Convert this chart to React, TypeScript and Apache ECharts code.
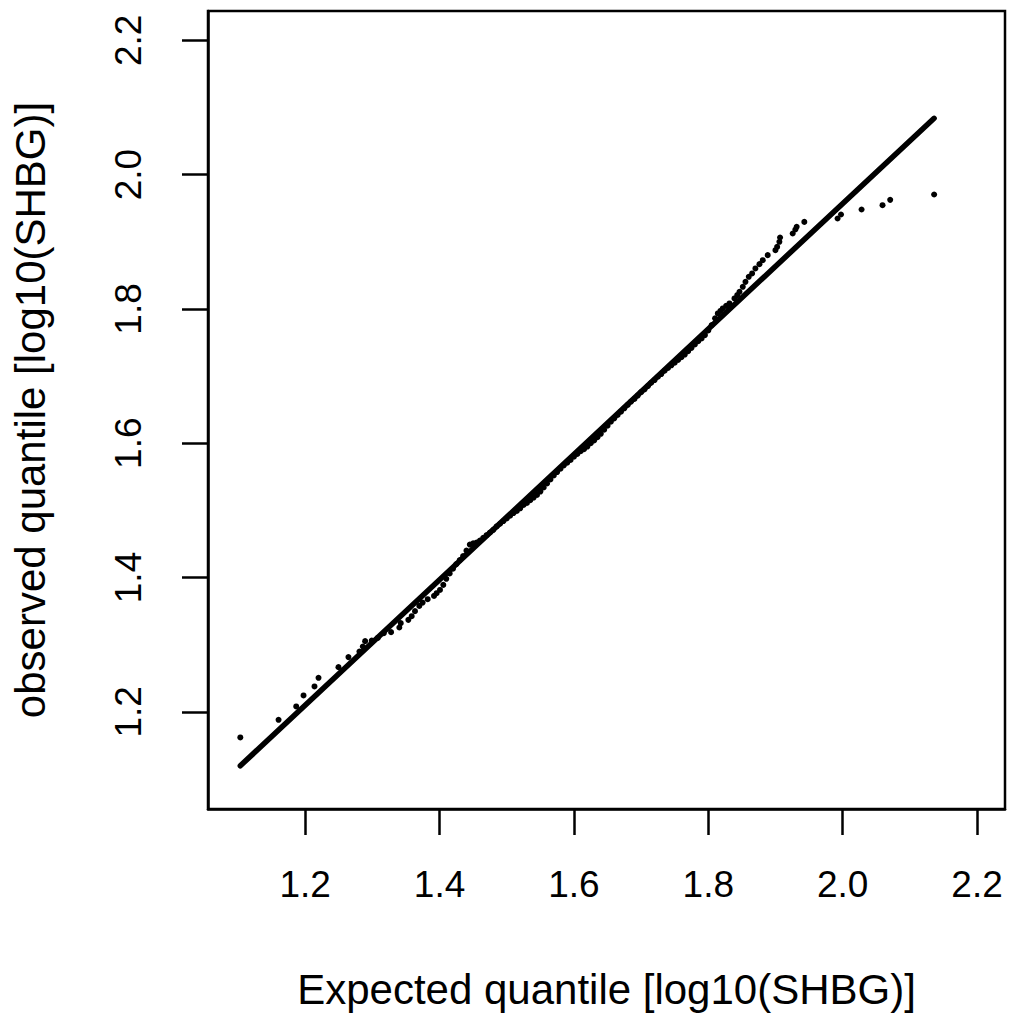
import React, { useEffect, useRef } from "react";
import * as echarts from "echarts";

// Expected (theoretical) quantiles, log10(SHBG)
const expectedQ: number[] = [
  1.1034, 1.1603, 1.1866, 1.1975, 1.2138, 1.2198, 1.2495, 1.2643, 1.2807, 1.2857,
  1.2892, 1.2990, 1.3080, 1.3170, 1.3278, 1.3401, 1.3422, 1.3535, 1.3585, 1.3634,
  1.3698, 1.3748, 1.3823, 1.3917, 1.3956, 1.4006, 1.4055,
  1.410, 1.415, 1.420, 1.425, 1.430, 1.435, 1.440, 1.445, 1.450, 1.455,
  1.460, 1.465, 1.470, 1.475, 1.480, 1.485, 1.490, 1.495, 1.500, 1.505,
  1.510, 1.515, 1.520, 1.525, 1.530, 1.535, 1.540, 1.545, 1.550, 1.555,
  1.560, 1.565, 1.570, 1.575, 1.580, 1.585, 1.590, 1.595, 1.600, 1.605,
  1.610, 1.615, 1.620, 1.625, 1.630, 1.635, 1.640, 1.645, 1.650, 1.655,
  1.660, 1.665, 1.670, 1.675, 1.680, 1.685, 1.690, 1.695, 1.700, 1.705,
  1.710, 1.715, 1.720, 1.725, 1.730, 1.735, 1.740, 1.745, 1.750, 1.755,
  1.760, 1.765, 1.770, 1.775, 1.780, 1.785, 1.790, 1.795, 1.800, 1.805,
  1.810,
  1.8141, 1.8180, 1.8215, 1.8265, 1.8315, 1.8389, 1.8430, 1.8464, 1.8513, 1.8553,
  1.8602, 1.8652, 1.8701, 1.8761, 1.8810, 1.8884, 1.8999, 1.9024, 1.9058, 1.9068,
  1.9256, 1.9296, 1.9315, 1.9429, 1.9924, 1.9975, 2.0281, 2.0593, 2.0707, 2.1361,
];

// Observed quantiles, log10(SHBG)
const observedQ: number[] = [
  1.1618, 1.1880, 1.2079, 1.2243, 1.2377, 1.2506, 1.2665, 1.2814, 1.2897, 1.2972,
  1.3052, 1.3060, 1.3100, 1.3170, 1.3186, 1.3255, 1.3320, 1.3369, 1.3424, 1.3499,
  1.3577, 1.3626, 1.3677, 1.3726, 1.3766, 1.3815, 1.3890,
  1.398, 1.406, 1.413, 1.420, 1.426, 1.432, 1.440, 1.449, 1.451, 1.452,
  1.455, 1.459, 1.463, 1.467, 1.471, 1.476, 1.480, 1.484, 1.488, 1.492,
  1.496, 1.499, 1.503, 1.508, 1.511, 1.515, 1.519, 1.523, 1.528, 1.534,
  1.540, 1.546, 1.552, 1.557, 1.562, 1.567, 1.571, 1.575, 1.580, 1.584,
  1.588, 1.591, 1.595, 1.600, 1.604, 1.609, 1.614, 1.620, 1.626, 1.632,
  1.637, 1.642, 1.647, 1.652, 1.657, 1.662, 1.666, 1.671, 1.676, 1.680,
  1.685, 1.690, 1.694, 1.699, 1.703, 1.708, 1.712, 1.716, 1.720, 1.724,
  1.728, 1.732, 1.737, 1.742, 1.747, 1.752, 1.756, 1.761, 1.768, 1.776,
  1.786,
  1.7933, 1.7970, 1.8007, 1.8045, 1.8082, 1.8156, 1.8205, 1.8255, 1.8329, 1.8403,
  1.8478, 1.8528, 1.8603, 1.8667, 1.8726, 1.8801, 1.8875, 1.8924, 1.8999, 1.9064,
  1.9123, 1.9183, 1.9222, 1.9296, 1.9347, 1.9406, 1.9481, 1.9545, 1.9624, 1.9704,
];

// Reference line (qqline) end points
const refLineX: number[] = [1.1034, 2.1361];
const refLineY: number[] = [1.1196, 2.0839];

const tickValues: number[] = [1.2, 1.4, 1.6, 1.8, 2.0, 2.2];

const xTitle = "Expected quantile [log10(SHBG)]";
const yTitle = "observed quantile [log10(SHBG)]";

const FONT = "'Liberation Sans', Arial, Helvetica, sans-serif";

export default function App() {
  const ref = useRef<HTMLDivElement>(null);

  useEffect(() => {
    document.body.style.margin = "0";
    if (!ref.current) return;
    const chart = echarts.init(ref.current, null, { renderer: "svg" });

    const points = expectedQ.map((x, i) => [x, observedQ[i]]);
    const linePts = refLineX.map((x, i) => [x, refLineY[i]]);

    const axisCommon = {
      type: "value" as const,
      nameLocation: "middle" as const,
      splitLine: { show: false },
      axisLine: { show: true, lineStyle: { color: "#000", width: 2.5 } },
      axisTick: {
        show: true,
        inside: false,
        length: 26,
        customValues: tickValues,
        lineStyle: { color: "#000", width: 2.5 },
      },
      nameTextStyle: { fontFamily: FONT, fontSize: 42, color: "#000" },
    };

    chart.setOption({
      animation: false,
      backgroundColor: "#fff",
      grid: {
        left: 208,
        top: 11,
        width: 797,
        height: 798,
        show: true,
        borderColor: "#000",
        borderWidth: 2.5,
        backgroundColor: "transparent",
      },
      xAxis: {
        ...axisCommon,
        min: 1.0553,
        max: 2.2416,
        name: xTitle,
        nameGap: 159,
        axisLabel: {
          customValues: tickValues,
          formatter: (v: number) => v.toFixed(1),
          fontFamily: FONT,
          fontSize: 37,
          color: "#000",
          margin: 57,
        },
      },
      yAxis: {
        ...axisCommon,
        min: 1.0552,
        max: 2.2437,
        name: yTitle,
        nameGap: 157,
        axisLabel: {
          customValues: tickValues,
          formatter: (v: number) => v.toFixed(1),
          fontFamily: FONT,
          fontSize: 37,
          color: "#000",
          rotate: 90,
          margin: 61,
        },
      },
      series: [
        {
          type: "scatter",
          data: points,
          symbol: "circle",
          symbolSize: 6,
          itemStyle: { color: "#000", opacity: 1 },
          z: 2,
        },
        {
          type: "line",
          data: linePts,
          symbol: "none",
          lineStyle: { color: "#000", width: 5.5, cap: "round" },
          z: 3,
        },
      ],
    });

    return () => chart.dispose();
  }, []);

  return (
    <div
      ref={ref}
      style={{ position: "absolute", left: 0, top: 0, width: 1014, height: 1017 }}
    />
  );
}
